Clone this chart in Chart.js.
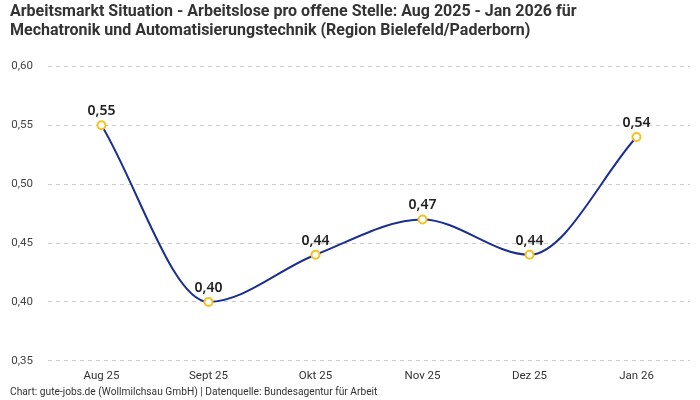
<!DOCTYPE html>
<html>
<head>
<meta charset="utf-8">
<script src="https://cdn.jsdelivr.net/npm/chart.js"></script>
<style>
  body { margin: 0; background: #fff; }
  #wrap { width: 700px; height: 400px; }
</style>
</head>
<body>
<div id="wrap"><canvas id="myChart" width="700" height="400"></canvas></div>
<script>
const months = ["Aug 25", "Sept 25", "Okt 25", "Nov 25", "Dez 25", "Jan 26"];
const ratio = [0.55, 0.40, 0.44, 0.47, 0.44, 0.54];
const yTicks = [0.35, 0.40, 0.45, 0.50, 0.55, 0.60];

const fmt = (v) => v.toFixed(2).replace(".", ",");

// draws the value above each point
const valueLabels = {
  id: "valueLabels",
  afterDatasetsDraw(chart) {
    const ctx = chart.ctx;
    const meta = chart.getDatasetMeta(0);
    ctx.save();
    ctx.font = "600 14px 'Noto Sans', sans-serif";
    ctx.fillStyle = "#222";
    ctx.textAlign = "center";
    ctx.textBaseline = "bottom";
    meta.data.forEach((pt, i) => {
      ctx.fillText(fmt(ratio[i]), pt.x, pt.y - 7);
    });
    ctx.restore();
  },
};

new Chart(document.getElementById("myChart").getContext("2d"), {
  type: "line",
  data: {
    labels: months,
    datasets: [
      {
        data: ratio,
        borderColor: "#1b2f91",
        borderWidth: 2,
        cubicInterpolationMode: "monotone",
        pointRadius: 4,
        pointHoverRadius: 4,
        pointBackgroundColor: "#fff",
        pointBorderColor: "#f6c01e",
        pointBorderWidth: 2,
        fill: false,
      },
    ],
  },
  options: {
    responsive: false,
    animation: false,
    layout: { padding: { left: 10, right: 10, top: 0, bottom: 0 } },
    plugins: {
      legend: { display: false },
      tooltip: { enabled: false },
      title: {
        display: true,
        align: "start",
        text: [
          "Arbeitsmarkt Situation - Arbeitslose pro offene Stelle: Aug 2025 - Jan 2026 für",
          "Mechatronik und Automatisierungstechnik (Region Bielefeld/Paderborn)",
        ],
        color: "#333",
        font: { family: "Roboto, sans-serif", size: 16, weight: "bold", lineHeight: 1.2 },
        padding: { top: 2, bottom: 26 },
      },
      subtitle: {
        display: true,
        position: "bottom",
        align: "start",
        text: "Chart: gute-jobs.de (Wollmilchsau GmbH) | Datenquelle: Bundesagentur für Arbeit",
        color: "#333",
        font: { family: "Roboto, sans-serif", size: 10.2 },
        padding: { top: 4, bottom: 1 },
      },
    },
    scales: {
      x: {
        offset: true,
        afterFit(axis) {
          axis.height = 22;
        },
        grid: { display: false, drawTicks: false },
        border: { display: false },
        ticks: { color: "#333", font: { family: "Roboto, sans-serif", size: 11.5 }, padding: 8 },
      },
      y: {
        min: yTicks[0],
        max: yTicks[yTicks.length - 1],
        afterBuildTicks(axis) {
          axis.ticks = yTicks.map((v) => ({ value: v }));
        },
        afterFit(axis) {
          axis.width = 38;
        },
        grid: { color: "#cccccc", drawTicks: false },
        border: { display: false, dash: [4, 4] },
        ticks: {
          color: "#444",
          font: { family: "Roboto, sans-serif", size: 11.5 },
          padding: 15,
          callback: (v) => fmt(v),
        },
      },
    },
  },
  plugins: [valueLabels],
});
</script>
</body>
</html>
